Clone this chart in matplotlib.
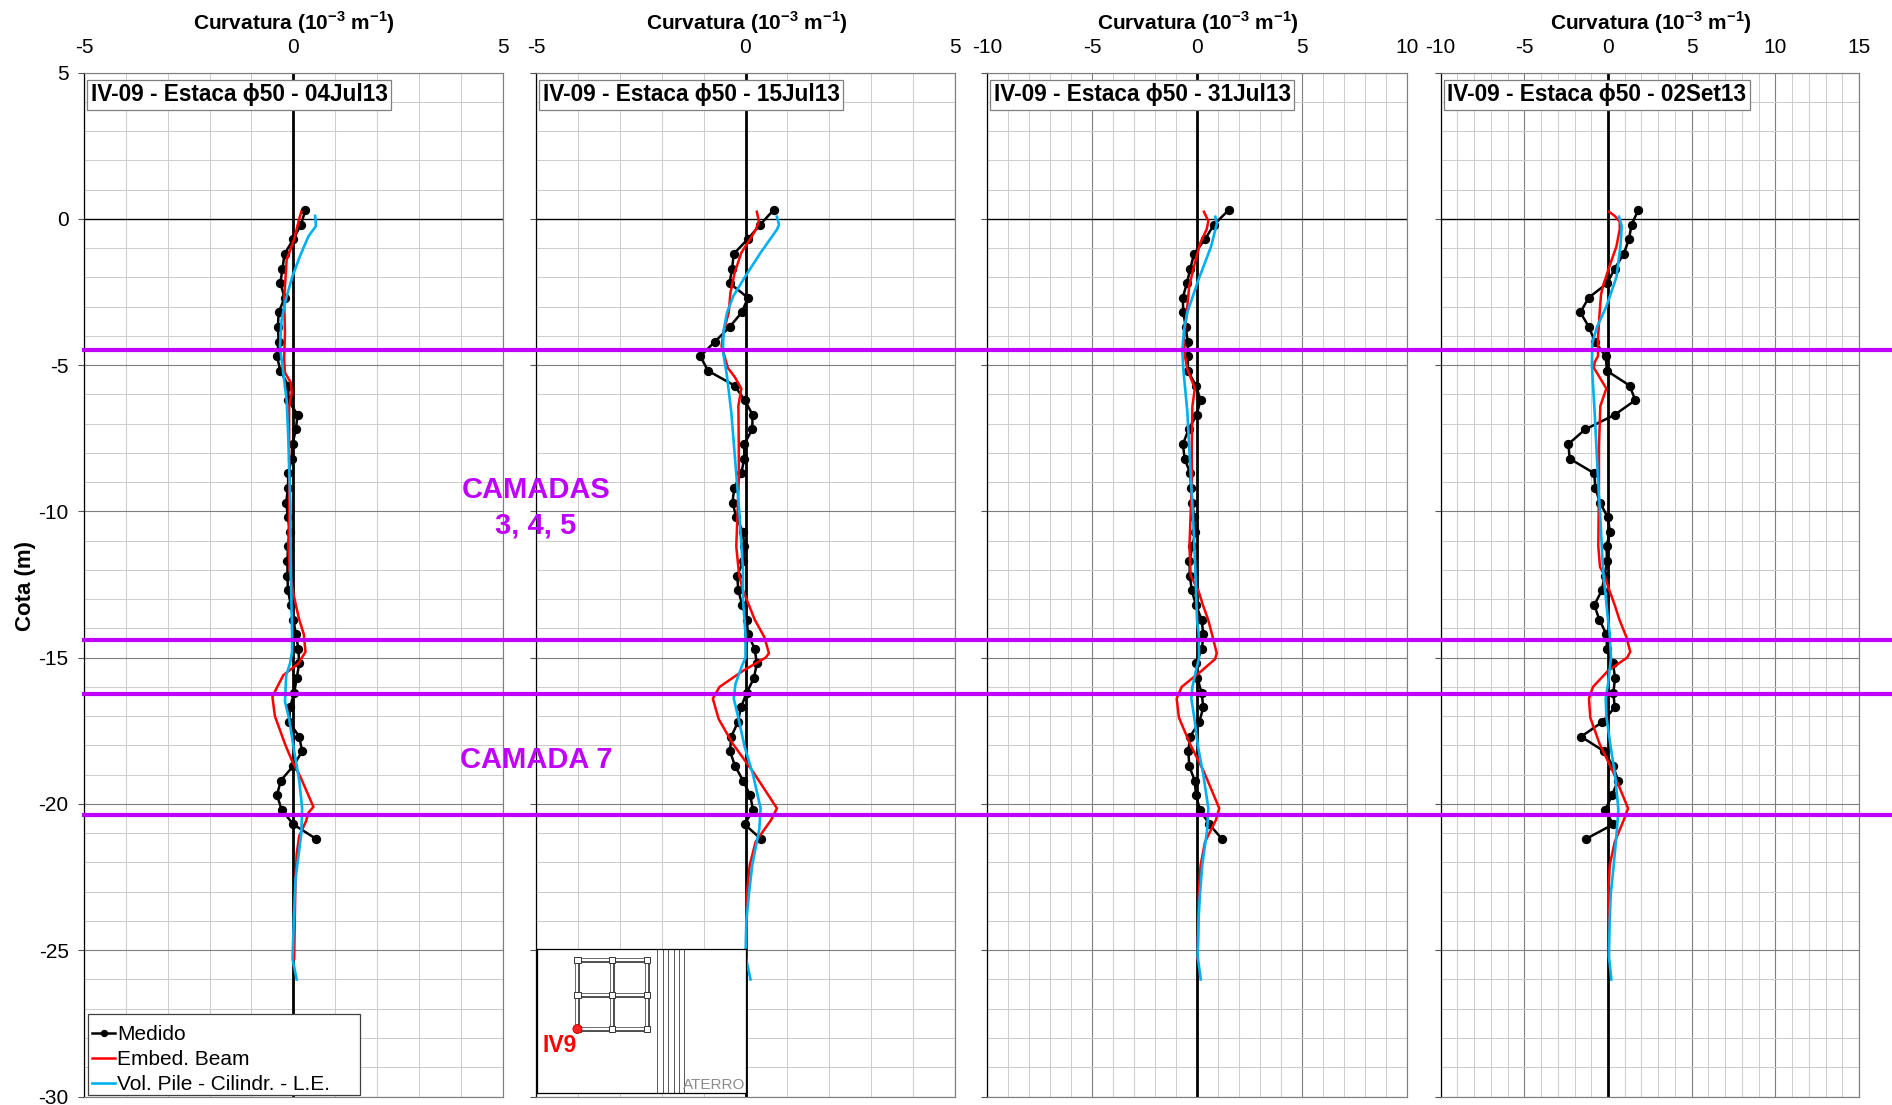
import matplotlib
matplotlib.use("Agg")
import matplotlib.pyplot as plt
from matplotlib.lines import Line2D
from matplotlib.patches import Rectangle, Circle
from matplotlib.ticker import MultipleLocator
from matplotlib.transforms import blended_transform_factory

plt.rcParams["font.family"] = ["Liberation Sans", "DejaVu Sans"]
plt.rcParams["axes.unicode_minus"] = False
plt.rcParams["mathtext.fontset"] = "custom"
plt.rcParams["mathtext.rm"] = "Liberation Sans:bold"
plt.rcParams["mathtext.bf"] = "Liberation Sans:bold"

W, H = 1892, 1105

TITLES = ["IV-09 - Estaca \u03d550 - 04Jul13", "IV-09 - Estaca \u03d550 - 15Jul13",
          "IV-09 - Estaca \u03d550 - 31Jul13", "IV-09 - Estaca \u03d550 - 02Set13"]
XLIMS = [(-5, 5), (-5, 5), (-10, 10), (-10, 15)]
LAYER_COTAS = [-4.49, -14.4, -16.25, -20.38]
LEGEND_LABELS = ["Medido", "Embed. Beam", "Vol. Pile - Cilindr. - L.E."]

# measured points, same depths on all four dates
COTA_MED = [0.3, -0.2, -0.7, -1.2, -1.7, -2.2, -2.7, -3.2, -3.7, -4.2, -4.7, -5.2, -5.7, -6.2, -6.7,
            -7.2, -7.7, -8.2, -8.7, -9.2, -9.7, -10.2, -10.7, -11.2, -11.7, -12.2, -12.7, -13.2, -13.7,
            -14.2, -14.7, -15.2, -15.7, -16.2, -16.7, -17.2, -17.7, -18.2, -18.7, -19.2, -19.7, -20.2,
            -20.7, -21.2]
MED_1 = [0.29, 0.18, 0.0, -0.21, -0.26, -0.31, -0.21, -0.35, -0.37, -0.35, -0.39, -0.31, -0.12, -0.12,
         0.1, 0.06, -0.02, -0.04, -0.12, -0.13, -0.17, -0.13, -0.08, -0.13, -0.14, -0.14, -0.13, -0.06,
         0.0, 0.06, 0.12, 0.14, 0.08, 0.02, -0.08, -0.1, 0.14, 0.21, 0.0, -0.3, -0.39, -0.28, 0.0, 0.55]
MED_2 = [0.67, 0.35, 0.05, -0.28, -0.32, -0.38, 0.06, -0.09, -0.38, -0.73, -1.08, -0.89, -0.26, -0.02,
         0.17, 0.16, -0.03, -0.03, -0.1, -0.27, -0.31, -0.22, -0.06, -0.03, -0.05, -0.2, -0.17, -0.08,
         0.03, 0.06, 0.22, 0.27, 0.2, 0.03, -0.11, -0.18, -0.34, -0.37, -0.25, -0.06, 0.11, 0.18, -0.02, 0.37]
MED_3 = [1.51, 0.81, 0.38, -0.14, -0.32, -0.48, -0.68, -0.65, -0.54, -0.44, -0.43, -0.44, -0.05, 0.17,
         -0.02, -0.4, -0.67, -0.59, -0.32, -0.28, -0.22, -0.14, -0.08, -0.22, -0.36, -0.34, -0.25, -0.05,
         0.22, 0.3, 0.24, -0.05, 0.02, 0.22, 0.3, 0.11, -0.33, -0.41, -0.37, -0.11, -0.05, 0.14, 0.59, 1.19]
MED_4 = [1.81, 1.41, 1.25, 0.94, 0.4, -0.04, -1.16, -1.65, -1.14, -0.78, -0.14, -0.06, 1.29, 1.63, 0.4,
         -1.37, -2.37, -2.29, -0.82, -0.76, -0.48, -0.02, 0.12, -0.09, -0.06, -0.2, -0.37, -0.82, -0.52,
         -0.1, -0.06, 0.3, 0.42, 0.32, 0.4, -0.34, -1.61, -0.24, 0.3, 0.6, 0.24, -0.16, 0.3, -1.33]

# embedded beam, same break points in every panel apart from small differences at the top
COTA_RED_1 = [0.24, 0.0, -0.7, -1.4, -2.75, -3.9, -4.8, -5.26, -5.6, -5.95, -6.4, -7.54, -9.8, -11.2,
              -12.1, -12.8, -13.2, -13.7, -14.2, -14.8, -15.2, -15.6, -16.1, -16.35, -17.0, -17.95, -18.5,
              -19.05, -20.1, -20.3, -20.6, -21.1, -21.7, -22.6, -25.3]
RED_1 = [0.19, 0.14, 0.02, -0.16, -0.22, -0.2, -0.22, -0.2, -0.06, -0.04, -0.1, -0.1, -0.1, -0.12,
         -0.08, 0.0, 0.06, 0.14, 0.25, 0.29, 0.12, -0.24, -0.42, -0.5, -0.44, -0.2, -0.04,
         0.16, 0.48, 0.36, 0.3, 0.14, 0.08, 0.05, 0.02]
COTA_RED_2 = [0.24, -0.08, -0.36, -0.7, -1.16, -1.85, -2.53, -3.2, -3.9, -4.35, -4.7, -5.1, -5.4, -5.8,
              -6.4, -7.8, -8.9, -11.2, -12.2, -12.7, -13.2, -13.7, -14.3, -14.85, -15.0, -15.45, -16.0,
              -16.4, -17.1, -17.95, -18.9, -20.15, -20.55, -21.3, -22.1, -23.1, -25.4]
RED_2 = [0.27, 0.32, 0.25, 0.11, -0.1, -0.26, -0.36, -0.4, -0.53, -0.57, -0.5, -0.42, -0.26, -0.1,
         -0.17, -0.16, -0.16, -0.22, -0.15, -0.06, 0.08, 0.22, 0.45, 0.56, 0.48, -0.06, -0.62,
         -0.78, -0.64, -0.3, 0.18, 0.75, 0.61, 0.24, 0.1, 0.03, 0.02]
COTA_RED_3 = [0.24, -0.08, -0.36, -0.8, -1.5, -2.3, -3.2, -4.1, -4.7, -5.15, -5.8, -6.4, -7.8, -8.9,
              -11.2, -12.2, -12.7, -13.2, -13.7, -14.3, -14.85, -15.05, -15.45, -16.0, -16.4, -17.05,
              -17.95, -18.9, -20.15, -20.55, -21.3, -22.1, -23.1, -25.3]
RED_3 = [0.33, 0.54, 0.46, 0.17, -0.1, -0.37, -0.49, -0.62, -0.57, -0.46, -0.1, -0.22, -0.25, -0.24,
         -0.36, -0.3, 0.06, 0.28, 0.53, 0.75, 0.94, 0.86, 0.22, -0.73, -0.97, -0.86,
         -0.33, 0.33, 1.06, 0.9, 0.38, 0.17, 0.08, 0.03]
COTA_RED_4 = [0.24, 0.1, -0.1, -0.36, -0.95, -1.6, -2.3, -2.6, -3.2, -4.1, -4.7, -4.9, -5.1, -5.8, -6.4,
              -7.8, -8.9, -11.2, -11.9, -12.2, -12.7, -13.2, -13.7, -14.3, -14.8, -15.0, -15.45, -16.0,
              -16.4, -17.05, -17.95, -18.9, -20.15, -20.55, -21.3, -22.1, -23.1, -25.2]
RED_4 = [0.06, 0.4, 0.7, 0.7, 0.5, 0.1, -0.3, -0.42, -0.5, -0.6, -0.6, -0.8, -0.84, -0.1, -0.46,
         -0.54, -0.54, -0.58, -0.48, -0.2, 0.08, 0.4, 0.68, 1.1, 1.33, 1.14, 0.0, -0.9,
         -1.14, -1.06, -0.5, 0.3, 1.2, 0.94, 0.4, 0.1, 0.02, 0.05]

# volume pile
COTA_BLUE_1 = [0.1, -0.25, -0.6, -1.27, -1.96, -2.75, -3.45, -4.35, -5.05, -6.2, -7.54, -9.8, -12.1, -14.2,
               -14.8, -15.2, -15.6, -16.5, -17.1, -18.2, -19.2, -20.15, -21.0, -22.6, -24.0, -25.3, -26.0]
BLUE_1 = [0.52, 0.54, 0.36, 0.16, -0.02, -0.18, -0.28, -0.32, -0.26, -0.16, -0.12, -0.07, -0.06, -0.03,
          -0.03, -0.08, -0.17, -0.2, -0.1, 0.02, 0.14, 0.21, 0.19, 0.05, 0.01, -0.02, 0.08]
COTA_BLUE_2 = [0.07, -0.2, -0.37, -1.16, -1.96, -2.64, -3.2, -3.8, -4.5, -5.4, -6.6, -8.9, -10.0, -12.0,
               -13.0, -14.2, -15.0, -15.3, -15.9, -16.4, -17.0, -18.05, -19.0, -20.15, -20.85, -22.1, -23.1,
               -24.0, -25.2, -26.0]
BLUE_2 = [0.75, 0.8, 0.75, 0.36, 0.0, -0.29, -0.44, -0.52, -0.54, -0.44, -0.34, -0.21, -0.15, -0.06,
          -0.06, 0.0, 0.0, -0.09, -0.24, -0.28, -0.18, -0.02, 0.18, 0.36, 0.33, 0.16, 0.08,
          0.02, 0.0, 0.12]
COTA_BLUE_3 = [0.07, -0.15, -0.95, -2.1, -3.2, -3.8, -4.5, -5.15, -6.6, -8.9, -10.0, -12.0, -13.7, -14.2,
               -15.0, -15.45, -16.0, -16.4, -17.05, -18.05, -19.0, -20.15, -20.85, -22.1, -23.1, -24.0,
               -25.2, -26.0]
BLUE_3 = [0.87, 0.95, 0.67, 0.06, -0.46, -0.62, -0.7, -0.65, -0.46, -0.29, -0.2, -0.08, 0.0, 0.08,
          0.1, -0.05, -0.22, -0.27, -0.13, 0.05, 0.3, 0.54, 0.49, 0.25, 0.14, 0.07,
          0.03, 0.18]
COTA_BLUE_4 = [0.07, -0.25, -0.95, -2.0, -3.0, -3.7, -4.25, -5.05, -6.6, -8.9, -10.0, -12.0, -13.7, -14.2,
               -15.0, -15.9, -16.4, -17.0, -18.05, -19.0, -20.2, -21.1, -22.1, -23.1, -24.0, -25.2, -26.0]
BLUE_4 = [0.66, 0.82, 0.74, 0.5, -0.1, -0.66, -0.94, -0.96, -0.8, -0.6, -0.48, -0.3, 0.0, 0.1,
          0.18, 0.0, -0.14, -0.1, 0.16, 0.42, 0.62, 0.5, 0.34, 0.16, 0.1, 0.05, 0.2]

MED = [MED_1, MED_2, MED_3, MED_4]
RED = [(COTA_RED_1, RED_1), (COTA_RED_2, RED_2), (COTA_RED_3, RED_3), (COTA_RED_4, RED_4)]
BLUE = [(COTA_BLUE_1, BLUE_1), (COTA_BLUE_2, BLUE_2), (COTA_BLUE_3, BLUE_3), (COTA_BLUE_4, BLUE_4)]

# panel left/right edges in pixels
PANEL_X = [(84, 502.7), (536, 955), (987, 1407), (1440.7, 1859)]
TOP, BOTTOM = 72.5, 1096.5


def px_box(x0, x1, y0, y1):
    """Figure fractions for a box given in pixels, y from the top."""
    return [x0 / W, 1 - y1 / H, (x1 - x0) / W, (y1 - y0) / H]


def fx(x):
    return x / W


def fy(y):
    return 1 - y / H


def draw_panel(fig, i):
    ax = fig.add_axes(px_box(PANEL_X[i][0], PANEL_X[i][1], TOP, BOTTOM))
    ax.set_xlim(*XLIMS[i])
    ax.set_ylim(-30, 5)
    ax.xaxis.set_major_locator(MultipleLocator(5))
    ax.xaxis.set_minor_locator(MultipleLocator(1))
    ax.yaxis.set_major_locator(MultipleLocator(5))
    ax.yaxis.set_minor_locator(MultipleLocator(1))
    ax.grid(which="minor", color="#CDCDCD", lw=0.75)
    ax.grid(which="major", color="#7F7F7F", lw=0.8)
    ax.set_axisbelow(True)
    ax.xaxis.tick_top()
    xt = list(range(XLIMS[i][0], XLIMS[i][1] + 1, 5))
    ax.set_xticks(xt)
    ax.set_xticklabels([str(v) for v in xt], fontsize=15)
    ax.tick_params(axis="x", which="both", length=0, pad=11)
    ax.tick_params(axis="y", which="major", length=4, width=0.8, color="#555555", pad=7)
    ax.tick_params(axis="y", which="minor", length=0)
    yt = list(range(-30, 6, 5))
    ax.set_yticks(yt)
    ax.set_yticklabels([str(v) for v in yt] if i == 0 else [], fontsize=15)
    for s in ["top", "right", "bottom"]:
        ax.spines[s].set_color("#7F7F7F")
        ax.spines[s].set_linewidth(0.85)
    ax.spines["left"].set_color("black")
    ax.spines["left"].set_linewidth(0.9)

    ax.axhline(0, color="black", lw=0.95, zorder=1.5)
    ax.axvline(0, color="black", lw=2.0, zorder=1.6)

    ax.plot(MED[i], COTA_MED, color="black", lw=1.8, marker="o", ms=5.7, zorder=3, label=LEGEND_LABELS[0])
    ax.plot(RED[i][1], RED[i][0], color="#FF0000", lw=1.8, zorder=3.1, label=LEGEND_LABELS[1])
    ax.plot(BLUE[i][1], BLUE[i][0], color="#00B0F0", lw=1.9, zorder=3.2, label=LEGEND_LABELS[2])

    fig.text(fx((PANEL_X[i][0] + PANEL_X[i][1]) / 2 + 1), fy(23), "Curvatura (10$^{\\mathrm{-3}}$ m$^{\\mathrm{-1}}$)",
             ha="center", va="center", fontsize=15, fontweight="bold")
    ax.text(fx(PANEL_X[i][0] + 6.5), fy(95), TITLES[i], transform=fig.transFigure, ha="left", va="center",
            fontsize=16.3, fontweight="bold", zorder=6,
            bbox=dict(boxstyle="square,pad=0.16", fc="white", ec="#7F7F7F", lw=0.9))
    return ax


def draw_plan(fig):
    # little site plan in the lower part of the second panel
    ax = fig.add_axes(px_box(537, 745.5, 949, 1093), zorder=5)
    ax.set_xlim(537, 745.5)
    ax.set_ylim(1093, 949)
    ax.set_xticks([])
    ax.set_yticks([])
    for s in ax.spines.values():
        s.set_color("black")
        s.set_linewidth(0.9)
    for x in [657, 662.5, 668, 673.5, 679, 683.5]:
        ax.plot([x, x], [949, 1093], color="#555555", lw=0.7)
    xs = [577.4, 612.3, 646.8]
    ys = [960, 995, 1029]
    for x in xs:
        ax.plot([x, x], [ys[0], ys[-1]], color="#333333", lw=3.4, solid_capstyle="butt")
        ax.plot([x, x], [ys[0], ys[-1]], color="white", lw=1.7, solid_capstyle="butt")
    for y in ys:
        ax.plot([xs[0], xs[-1]], [y, y], color="#333333", lw=3.4, solid_capstyle="butt")
        ax.plot([xs[0], xs[-1]], [y, y], color="white", lw=1.7, solid_capstyle="butt")
    for x in xs:
        for y in ys:
            ax.add_patch(Rectangle((x - 3.2, y - 3.2), 6.4, 6.4, fc="white", ec="#333333", lw=0.7, zorder=3))
    ax.add_patch(Circle((577.4, 1029), 4.5, fc="#FF2020", ec="#C00000", lw=0.6, zorder=4))
    ax.text(559.5, 1046, "IV9", color="#FF0000", fontsize=16.5, fontweight="bold", ha="center", va="center")
    ax.text(714, 1085, "ATERRO", color="#8C8C8C", fontsize=11, ha="center", va="center")


def main():
    fig = plt.figure(figsize=(W / 100, H / 100), dpi=100)
    axes = [draw_panel(fig, i) for i in range(4)]
    draw_plan(fig)

    # legend box is wider than its text, so the frame is drawn separately
    frame = Rectangle((fx(87.5), fy(1094.5)), (360 - 87.5) / W, 80.5 / H, transform=fig.transFigure,
                      fc="white", ec="#404040", lw=0.9, zorder=5.5)
    axes[0].add_patch(frame)
    frame.set_clip_on(False)
    handles, labels = axes[0].get_legend_handles_labels()
    handles = handles[:3]
    labels = labels[:3]
    leg = axes[0].legend(handles, labels, loc="lower left", bbox_to_anchor=(fx(87.5), fy(1099)),
                         bbox_transform=fig.transFigure, borderaxespad=0, frameon=False,
                         fontsize=15, handlelength=1.1, handletextpad=0.1,
                         labelspacing=0.3, borderpad=0.22, markerscale=0.75)
    leg.set_zorder(6)

    # layer boundaries run from the first panel to the edge of the figure
    trans = blended_transform_factory(fig.transFigure, axes[0].transData)
    for c in LAYER_COTAS:
        fig.add_artist(Line2D([fx(84), 1.0], [c, c], transform=trans, color="#BF00FF", lw=3.0, zorder=8))

    purple = "#BF00FF"
    fig.text(fx(536), fy(490.5), "CAMADAS", color=purple, fontsize=21, fontweight="bold", ha="center", va="center")
    fig.text(fx(536), fy(525.5), "3, 4, 5", color=purple, fontsize=21, fontweight="bold", ha="center", va="center")
    fig.text(fx(536), fy(760.5), "CAMADA 7", color=purple, fontsize=21, fontweight="bold", ha="center", va="center")
    fig.text(fx(25), fy(586), "Cota (m)", rotation=90, fontsize=16, fontweight="bold", ha="center", va="center")

    fig.savefig("out.png", dpi=100)


if __name__ == "__main__":
    main()
